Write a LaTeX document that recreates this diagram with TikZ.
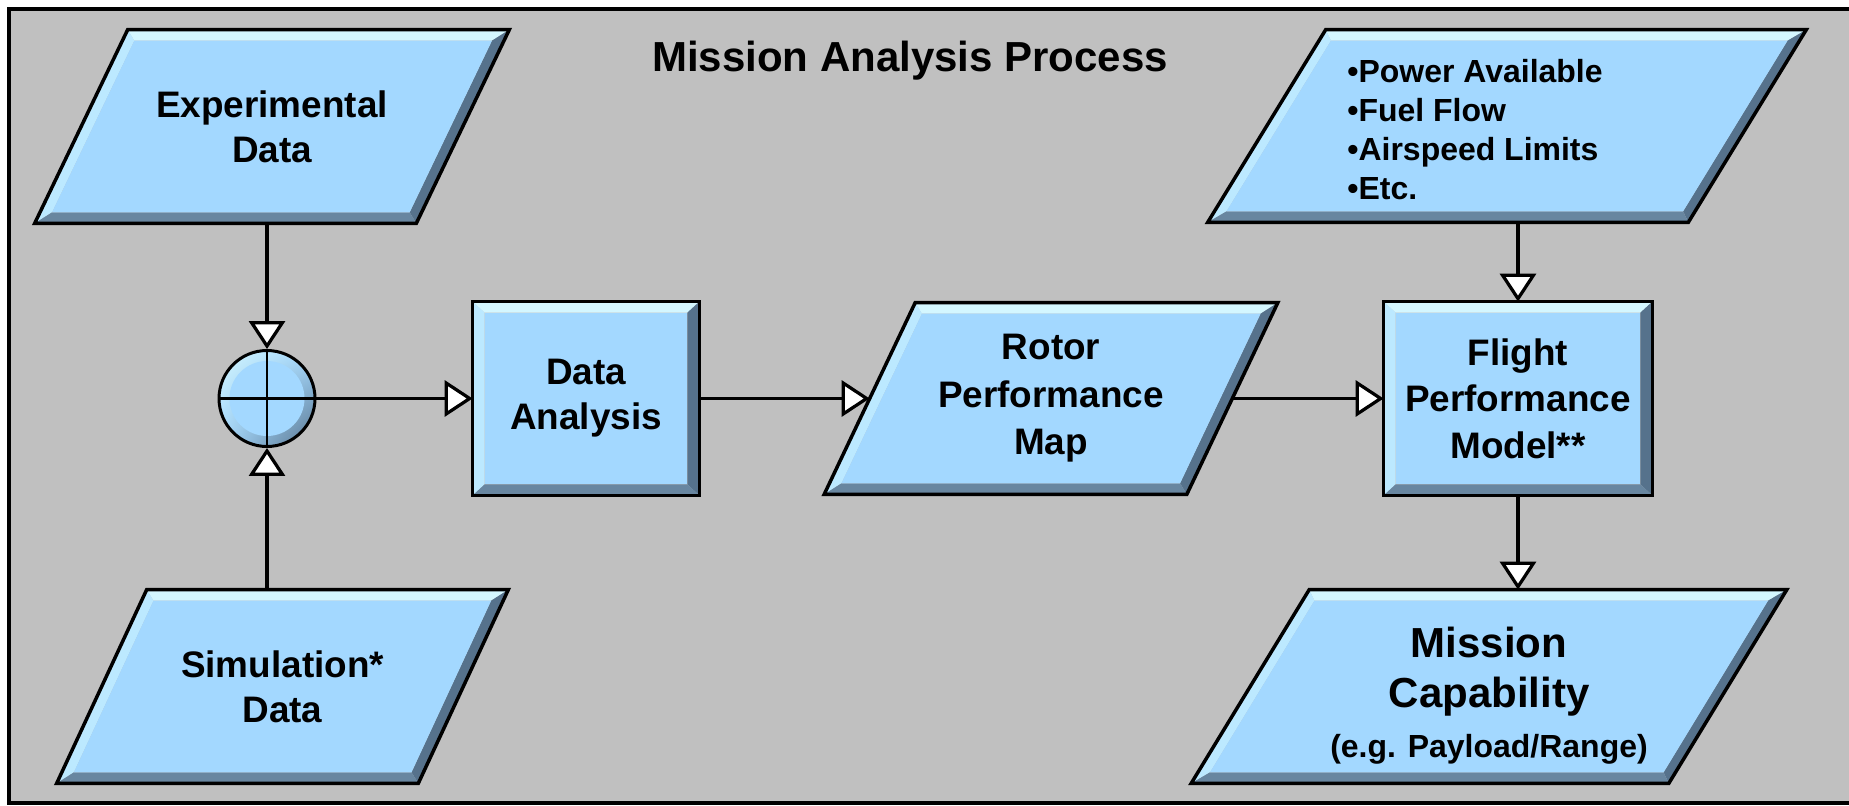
\documentclass[tikz,border=0pt]{standalone}
\usepackage{fontspec}
\setmainfont{Liberation Sans}
\usetikzlibrary{positioning,arrows.meta,calc,shadings}

\definecolor{panelgray}{RGB}{192,192,192}
\definecolor{faceblue}{RGB}{163,216,255}
\definecolor{topblue}{RGB}{212,247,255}
\definecolor{leftblue}{RGB}{188,233,255}
\definecolor{rightblue}{RGB}{86,114,140}
\definecolor{bottomblue}{RGB}{104,134,160}

\pgfdeclarelayer{panel}
\pgfdeclarelayer{shapes}
\pgfsetlayers{panel,shapes,main}

% beveled outline behind a node: #1 node name, #2 half of the slant (px)
\newcommand{\bevelshape}[2]{%
  \begin{pgfonlayer}{shapes}
    \coordinate (tl) at ($(#1.north west)+(#2,0)$);
    \coordinate (tr) at ($(#1.north east)+(#2,0)$);
    \coordinate (br) at ($(#1.south east)-(#2,0)$);
    \coordinate (bl) at ($(#1.south west)-(#2,0)$);
    \coordinate (itl) at ($(tl)+({12-0.115*#2},11)$);
    \coordinate (itr) at ($(tr)+({-12-0.115*#2},11)$);
    \coordinate (ibr) at ($(br)+({-12+0.115*#2},-11)$);
    \coordinate (ibl) at ($(bl)+({12+0.115*#2},-11)$);
    \fill[topblue] (tl) -- (tr) -- (itr) -- (itl) -- cycle;
    \fill[leftblue] (tl) -- (itl) -- (ibl) -- (bl) -- cycle;
    \fill[rightblue] (tr) -- (br) -- (ibr) -- (itr) -- cycle;
    \fill[bottomblue] (bl) -- (ibl) -- (ibr) -- (br) -- cycle;
    \fill[faceblue] (itl) -- (itr) -- (ibr) -- (ibl) -- cycle;
    \draw[line width=0.07cm] (tl) -- (tr) -- (br) -- (bl) -- cycle;
  \end{pgfonlayer}}

\begin{document}
\begin{tikzpicture}[x=0.02cm, y=-0.02cm,
  every node/.style={inner sep=0pt, align=center},
  block/.style={rectangle, minimum height=3.86cm, font=\fontsize{21}{25.6}\selectfont\bfseries},
  flow/.style={-{Triangle[fill=white, length=0.56cm, width=0.72cm]}, line width=0.065cm},
  sumjunction/.style={circle, minimum size=1.92cm, draw, line width=0.06cm,
    path picture={
      \shade[upper left=topblue, upper right=faceblue, lower left=faceblue, lower right=rightblue]
        (path picture bounding box.south west) rectangle (path picture bounding box.north east);
      \fill[faceblue] (path picture bounding box.center) circle (0.75cm);
      \draw[line width=0.045cm] (path picture bounding box.north) -- (path picture bounding box.south)
        (path picture bounding box.west) -- (path picture bounding box.east);
    }}]

\useasboundingbox (0,0) rectangle (1849,805);

% Gray panel with frame
\begin{pgfonlayer}{panel}
  \fill[white] (0,0) rectangle (1849,805);
  \draw[fill=panelgray, line width=0.07cm] (9,9) rectangle (1870,803);
\end{pgfonlayer}

\node[font=\fontsize{23.9}{28}\selectfont\bfseries] (title) at (910,61) {Mission Analysis Process};

% Input data
\node[block, minimum width=7.62cm] (expdata) at (272,126.5) {Experimental\\Data};
\node[block, minimum width=7.22cm] (simdata) at (282.5,686.5) {Simulation*\\Data};
\node[sumjunction] (sum) at (267,398.5) {};

% Analysis chain
\node[block, minimum width=4.52cm] (analysis) at (586,398.5) {Data\\Analysis};
\node[block, minimum width=7.24cm, minimum height=3.82cm, font=\fontsize{21}{27}\selectfont\bfseries] (rotormap) at (1051,398.5) {Rotor\\Performance\\Map};
\node[block, minimum width=5.36cm, font=\fontsize{21}{26.5}\selectfont\bfseries] (flightmodel) at (1518,398.5) {Flight\\Performance\\Model**};

% Aircraft data and result
\node[block, minimum width=9.6cm, minimum height=3.84cm] (aircraft) at (1507,126) {};
\node[anchor=west, align=left, font=\fontsize{18.2}{22.2}\selectfont\bfseries] (aircraftlist) at (1347,130)
  {•Power Available\\•Fuel Flow\\•Airspeed Limits\\•Etc.};
\node[block, minimum width=9.54cm] (mission) at (1489,686.5) {};
\node[font=\fontsize{23.9}{28.5}\selectfont\bfseries] (missiontext) at (1489,696)
  {Mission\\Capability\\{\fontsize{18.2}{22}\selectfont(e.g. Payload/Range)}};

% Beveled shapes
\bevelshape{expdata}{46.5}
\bevelshape{simdata}{45}
\bevelshape{analysis}{0}
\bevelshape{rotormap}{45.5}
\bevelshape{flightmodel}{0}
\bevelshape{aircraft}{59}
\bevelshape{mission}{59}

% Connectors
\draw[flow] (sum |- expdata.south) -- (sum.north);
\draw[flow] (sum |- simdata.north) -- (sum.south);
\draw[flow] (sum.east) -- (analysis.west);
\draw[flow] (analysis.east) -- (rotormap.west);
\draw[flow] (rotormap.east) -- (flightmodel.west);
\draw[flow] (flightmodel.north |- aircraft.south) -- (flightmodel.north);
\draw[flow] (flightmodel.south) -- (flightmodel.south |- mission.north);
\end{tikzpicture}
\end{document}
